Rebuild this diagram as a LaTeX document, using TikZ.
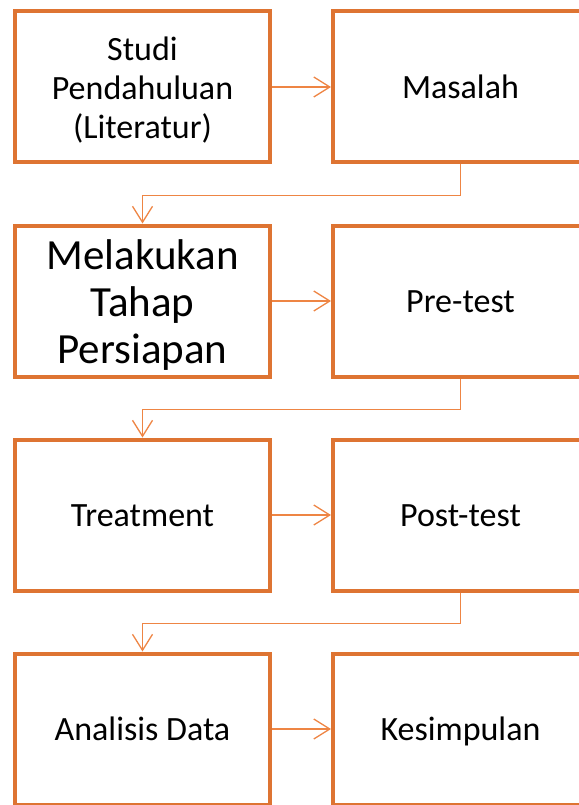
\documentclass[tikz,border=0pt]{standalone}
\usepackage{fontspec}
\setmainfont{Carlito}
\usepackage{xcolor}
\usepackage{tikz}
\usetikzlibrary{positioning,arrows.meta}
\definecolor{cOrange}{HTML}{DE7432}
\definecolor{cLink}{HTML}{EE8544}
\newcommand{\boxstrut}{\vrule width 0pt height 0.9em depth 0.2em\relax}
\newcommand{\topstrut}{\vrule width 0pt height 0.92em\relax}

\begin{document}
\begin{tikzpicture}[
  x=1pt, y=-1pt,
  node distance=59pt,
  box/.style={
    draw=cOrange,
    line width=4pt,
    minimum width=255pt,
    minimum height=151pt,
    align=center,
    font=\fontsize{34}{39}\selectfont,
    execute at begin node=\boxstrut,
    execute at end node=\boxstrut,
  },
  link/.style={
    draw=cLink,
    line width=1.3pt,
    -{Straight Barb[length=16pt, width=20pt, line width=1.3pt]},
  },
]

\useasboundingbox (0,0) rectangle (578,805);
%
% ─── ROW 1 ───
\node[box] (studi) at (142.5,87) {\topstrut Studi\\Pendahuluan\\(Literatur)};
\node[box, right=of studi] (masalah) {Masalah};
%
% ─── ROW 2 ───
\node[box, below=of studi, font=\fontsize{43}{47}\selectfont] (persiapan) {\topstrut Melakukan\\Tahap\\Persiapan};
\node[box, right=of persiapan] (pretest) {Pre-test};
%
% ─── ROW 3 ───
\node[box, below=of persiapan] (treatment) {Treatment};
\node[box, right=of treatment] (posttest) {Post-test};
%
% ─── ROW 4 ───
\node[box, below=of treatment] (analisis) {Analisis Data};
\node[box, right=of analisis] (kesimpulan) {Kesimpulan};
%
% ─── CONNECTORS ───
\draw[link] (studi.east) -- (masalah.west);
\draw[link] (masalah.south) -- ++(0,-31pt) -| (persiapan.north);
\draw[link] (persiapan.east) -- (pretest.west);
\draw[link] (pretest.south) -- ++(0,-31pt) -| (treatment.north);
\draw[link] (treatment.east) -- (posttest.west);
\draw[link] (posttest.south) -- ++(0,-31pt) -| (analisis.north);
\draw[link] (analisis.east) -- (kesimpulan.west);

\end{tikzpicture}
\end{document}
